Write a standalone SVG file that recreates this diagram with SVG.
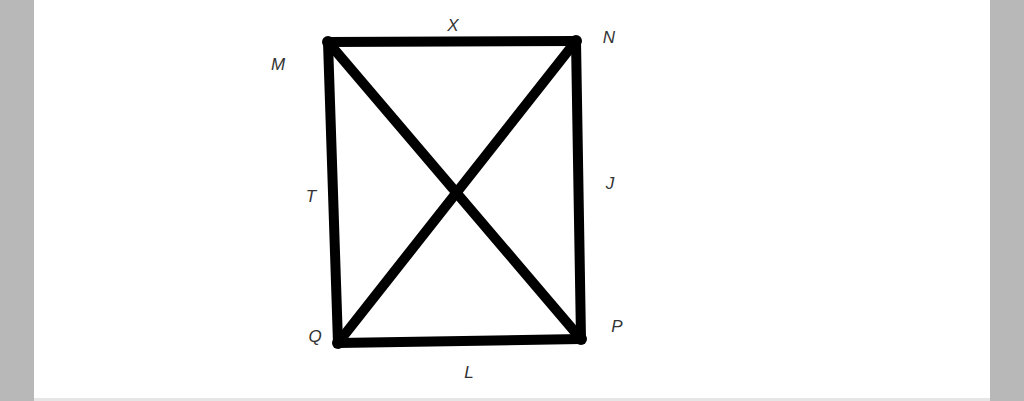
<svg xmlns="http://www.w3.org/2000/svg" width="1024" height="401" viewBox="0 0 1024 401">
<style>
.edge{stroke:#000;stroke-width:10;stroke-linecap:round;fill:none}
.lbl{font-family:"Liberation Sans",Arial,sans-serif;font-size:17px;font-style:italic;fill:#333;text-anchor:middle}
.dot{fill:#000}
</style>
<rect x="0" y="0" width="1024" height="401" fill="#ffffff"/>
<rect x="0" y="0" width="34" height="401" fill="#b8b8b8"/>
<rect x="990" y="0" width="34" height="401" fill="#b8b8b8"/>
<rect x="34" y="398" width="956" height="3" fill="#e6e6e6"/>
<g id="connectors">
<line class="edge" x1="328" y1="42" x2="576" y2="41"/>
<line class="edge" x1="576" y1="41" x2="581" y2="339"/>
<line class="edge" x1="581" y1="339" x2="338" y2="343"/>
<line class="edge" x1="338" y1="343" x2="328" y2="42"/>
<line class="edge" x1="328" y1="42" x2="581" y2="339"/>
<line class="edge" x1="576" y1="41" x2="338" y2="343"/>
<text class="lbl" x="453" y="31">X</text>
<text class="lbl" x="311" y="202">T</text>
<text class="lbl" x="610" y="189">J</text>
<text class="lbl" x="469" y="378">L</text>
</g>
<g id="M"><circle class="dot" cx="328" cy="42" r="6"/><text class="lbl" x="278" y="70">M</text></g>
<g id="N"><circle class="dot" cx="576" cy="41" r="6"/><text class="lbl" x="609" y="43">N</text></g>
<g id="P"><circle class="dot" cx="581" cy="339" r="6"/><text class="lbl" x="617" y="332">P</text></g>
<g id="Q"><circle class="dot" cx="338" cy="343" r="6"/><text class="lbl" x="315" y="342">Q</text></g>
</svg>
